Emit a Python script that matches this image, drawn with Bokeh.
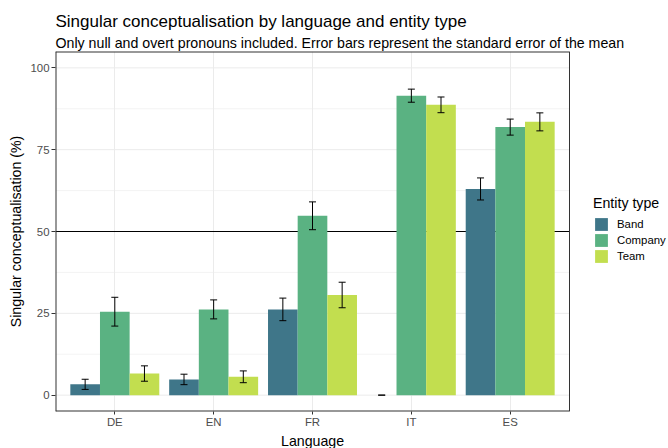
from bokeh.plotting import figure
from bokeh.models import (ColumnDataSource, Range1d, FixedTicker, Whisker, TeeHead,
                          Legend, LegendItem, Title)
from bokeh.embed import file_html
from bokeh.resources import INLINE

languages = ["DE", "EN", "FR", "IT", "ES"]
entity_types = ["Band", "Company", "Team"]
band = [3.3, 4.8, 26.2, 0.0, 63.0]
company = [25.5, 26.2, 54.8, 91.5, 81.9]
team = [6.6, 5.6, 30.6, 88.7, 83.5]
band_se = [1.55, 1.6, 3.45, 0.0, 3.37]
company_se = [4.4, 2.9, 4.25, 2.0, 2.45]
team_se = [2.35, 1.8, 3.9, 2.4, 2.75]
y_ticks = [0, 25, 50, 75, 100]
y_minor = [12.5, 37.5, 62.5, 87.5]
ref_level = 50
colors = ["#3F7689", "#5AB282", "#C2DE4F"]

FONT = "Liberation Sans"

# panel geometry (pixels) and data limits
W, H = 668, 448
LEFT, TOP, BOTTOM = 55, 51, 37
PANEL_W = 514                      # plotting panel width; legend sits to its right
X_LO, X_HI = 0.4, len(languages) + 0.6
Y_LO, Y_HI = -5, 105
frame_w = W - LEFT
x_end = X_LO + (X_HI - X_LO) * frame_w / PANEL_W

p = figure(width=W, height=H, output_backend="svg", toolbar_location=None,
           title=None, x_range=Range1d(X_LO, x_end), y_range=Range1d(Y_LO, Y_HI),
           min_border_left=LEFT, min_border_right=0, min_border_top=TOP,
           min_border_bottom=BOTTOM)
p.background_fill_color = "white"
p.border_fill_color = "white"
p.outline_line_color = None

# horizontal grid, restricted to the panel
GRID = "#EBEBEB"
p.segment(x0=X_LO, x1=X_HI, y0=y_minor, y1=y_minor, line_color=GRID, line_width=0.6)
p.segment(x0=X_LO, x1=X_HI, y0=y_ticks, y1=y_ticks, line_color=GRID, line_width=1)
# reference line at 50 %, behind the bars
p.segment(x0=X_LO, x1=X_HI, y0=ref_level, y1=ref_level, line_color="black", line_width=1)

series = [band, company, team]
ses = [band_se, company_se, team_se]
offsets = [-0.3, 0.0, 0.3]
renderers = []
for vals, se, off, col in zip(series, ses, offsets, colors):
    xs = [i + 1 + off for i in range(len(languages))]
    src = ColumnDataSource(dict(x=xs, top=vals,
                                lower=[v - s for v, s in zip(vals, se)],
                                upper=[v + s for v, s in zip(vals, se)]))
    r = p.vbar(x="x", top="top", bottom=0, width=0.3, source=src,
               fill_color=col, line_color=None)
    renderers.append(r)
    w = Whisker(base="x", lower="lower", upper="upper", source=src,
                line_color="black", line_width=1, level="overlay",
                lower_head=TeeHead(size=7, line_color="black", line_width=1),
                upper_head=TeeHead(size=7, line_color="black", line_width=1))
    p.add_layout(w)

# panel border (left/top/bottom lie on the frame edge, so half of the stroke shows)
BORDER = "#333333"
p.segment(x0=[X_LO, X_LO, X_LO], x1=[X_HI, X_HI, X_LO], y0=[Y_LO, Y_HI, Y_LO],
          y1=[Y_LO, Y_HI, Y_HI], line_color=BORDER, line_width=2)
p.segment(x0=X_HI, x1=X_HI, y0=Y_LO, y1=Y_HI, line_color=BORDER, line_width=1)

# axes
p.xaxis.ticker = FixedTicker(ticks=list(range(1, len(languages) + 1)))
p.xaxis.major_label_overrides = {i + 1: l for i, l in enumerate(languages)}
p.yaxis.ticker = FixedTicker(ticks=y_ticks, minor_ticks=y_minor)
for ax in (p.xaxis[0], p.yaxis[0]):
    ax.axis_line_color = None
    ax.major_tick_line_color = BORDER
    ax.major_tick_out = 4
    ax.major_tick_in = 0
    ax.minor_tick_line_color = None
    ax.major_label_text_font = FONT
    ax.major_label_text_font_size = "11.4px"
    ax.major_label_text_color = "#4D4D4D"
    ax.axis_label_text_font = FONT
    ax.axis_label_text_font_size = "14.2px"
    ax.axis_label_text_font_style = "normal"
    ax.axis_label_text_color = "black"
    ax.major_label_standoff = 2
p.xaxis.major_tick_out = 3
p.xaxis.major_label_standoff = 1
p.xaxis.major_label_text_line_height = 1.0
p.yaxis.axis_label = "Singular conceptualisation (%)"
p.yaxis.axis_label_standoff = 3

p.xgrid.grid_line_color = GRID
p.xgrid.grid_line_width = 1
p.ygrid.grid_line_color = None
p.ygrid.minor_grid_line_color = None

# x-axis title, centred under the panel
lang_w = 63
p.add_layout(Title(text="Language", text_font=FONT, text_font_size="14.2px",
                   text_font_style="normal", text_color="black", align="left",
                   text_line_height=1.0,
                   offset=PANEL_W / 2 - lang_w / 2, standoff=0), "below")

# titles
p.add_layout(Title(text="Only null and overt pronouns included. Error bars represent the standard error of the mean",
                   text_font=FONT, text_font_size="14.2px", text_font_style="normal",
                   text_color="black", standoff=2), "above")
p.add_layout(Title(text="Singular conceptualisation by language and entity type",
                   text_font=FONT, text_font_size="17px", text_font_style="normal",
                   text_color="black", standoff=2), "above")

legend = Legend(items=[LegendItem(label=n, renderers=[r]) for n, r in zip(entity_types, renderers)],
                location=(PANEL_W + 24, 147), title="Entity type",
                title_text_font=FONT, title_text_font_size="14.2px", title_text_font_style="normal",
                title_text_color="black", title_standoff=5,
                label_text_font=FONT, label_text_font_size="11.4px", label_text_color="black",
                glyph_width=16, glyph_height=16, label_height=16, label_standoff=8,
                spacing=0, padding=0, margin=0, border_line_color=None,
                background_fill_alpha=0)
p.add_layout(legend)

open("out.html", "w").write(file_html(p, INLINE))
